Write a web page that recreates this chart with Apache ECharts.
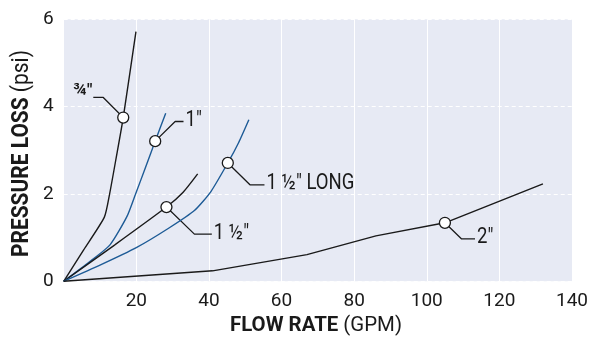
<!DOCTYPE html>
<html>
<head>
<meta charset="utf-8">
<script src="https://cdn.jsdelivr.net/npm/echarts@6/dist/echarts.min.js"></script>
<style>
html,body{margin:0;padding:0;background:#fff;}
#chart{width:591px;height:341px;}
</style>
</head>
<body>
<div id="chart"></div>
<script>
// ---- data ----
const curveNames = ['¾"', '1"', '1 ½"', '1 ½" LONG', '2"'];
const curveColors = ['#1a1a1a', '#1d5b96', '#1a1a1a', '#1d5b96', '#1a1a1a'];
const curve34 = [[0,0],[5.5,0.72],[11.2,1.47],[12.6,1.98],[14.5,2.85],[16.4,3.75],[19.9,5.72]];
const curve1 = [[0,0],[7.2,0.45],[12.8,0.84],[17.4,1.48],[19.8,2.0],[22.5,2.6],[25.2,3.21],[28.1,3.85]];
const curve15 = [[0,0],[14,0.83],[28.3,1.70],[32.9,2.04],[36.9,2.46]];
const curve15Long = [[0,0],[10,0.37],[20,0.77],[29,1.22],[36,1.62],[40.5,2.05],[45.2,2.71],[48.2,3.18],[51,3.7]];
const curve2 = [[0,0],[41,0.24],[67,0.61],[86,1.04],[105,1.34],[132,2.23]];
const markerPoints = [[16.4,3.75],[25.2,3.21],[28.3,1.70],[45.2,2.71],[105,1.34]];
const leaderElbows = [[10.9,4.21],[30.7,3.66],[36.0,1.08],[51.3,2.21],[109.6,0.97]];
const leaderEnds = [[8.15,4.21],[33.0,3.66],[40.8,1.08],[55.3,2.21],[113.3,0.97]];
const labelSides = ['left','right','right','right','right'];
const xTicks = {min:0, max:140, interval:20};
const yTicks = {min:0, max:6, interval:2};
const xName = ['FLOW RATE', ' (GPM)'];
const yName = ['PRESSURE LOSS', ' (psi)'];

// ---- chart ----
const FONT = 'Roboto, "DejaVu Sans Condensed", sans-serif';
const INK = '#1a1a1a';
const mctx = document.createElement('canvas').getContext('2d');
function tw(font, s) { mctx.font = font; return mctx.measureText(s).width; }

const curves = [curve34, curve1, curve15, curve15Long, curve2];
const series = [];
curves.forEach((c, i) => {
  series.push({
    type: 'line', name: curveNames[i], data: c, showSymbol: false,
    smooth: i === 4 ? false : 0.2,
    lineStyle: {color: curveColors[i], width: 1.4}, z: 3, silent: true
  });
});
markerPoints.forEach((m, i) => {
  series.push({
    type: 'line', data: [m, leaderElbows[i], leaderEnds[i]], showSymbol: false,
    lineStyle: {color: INK, width: 1.3}, z: 2, silent: true
  });
});
series.push({
  type: 'scatter', data: markerPoints, symbol: 'circle', symbolSize: 11,
  itemStyle: {color: '#ffffff', opacity: 1, borderColor: INK, borderWidth: 1.3}, z: 5, silent: true
});

const chart = echarts.init(document.getElementById('chart'), null, {renderer: 'canvas'});
chart.setOption({
  animation: false,
  backgroundColor: '#ffffff',
  grid: {left: 63.7, right: 19, top: 19.3, bottom: 59.7, show: true, backgroundColor: '#e7eaf4', borderWidth: 0},
  xAxis: {
    type: 'value', min: xTicks.min, max: xTicks.max, interval: xTicks.interval,
    axisLine: {show: false}, axisTick: {show: false},
    axisLabel: {fontFamily: FONT, fontSize: 19, color: INK, margin: 10,
      formatter: v => v === 0 ? '' : String(v)},
    splitLine: {show: true, lineStyle: {color: '#ffffff', width: 1, type: 'solid'}}
  },
  yAxis: {
    type: 'value', min: yTicks.min, max: yTicks.max, interval: yTicks.interval,
    axisLine: {show: false}, axisTick: {show: false},
    axisLabel: {fontFamily: FONT, fontSize: 19, color: INK, margin: 10},
    splitLine: {show: true, lineStyle: {color: '#ffffff', width: 1, type: [4, 3]}}
  },
  series: series
});

// axis names and curve labels as condensed text
const xs = 172 / (tw('bold 21px Roboto', xName[0]) + tw('21px Roboto', xName[1]));
const ys = 207 / (tw('bold 23px Roboto', yName[0]) + tw('23px Roboto', yName[1]));
const ls = 88 / tw('22px Roboto', curveNames[3]);
const graphics = [
  {type: 'text', x: 316, y: 326, scaleX: xs, z: 10, silent: true,
   style: {text: '{b|' + xName[0] + '}{n|' + xName[1] + '}', align: 'center', verticalAlign: 'middle',
     rich: {b: {font: 'bold 21px Roboto', fill: INK}, n: {font: '21px Roboto', fill: INK}}}},
  {type: 'text', x: 22.5, y: 153.5, scaleX: ys, rotation: Math.PI / 2, z: 10, silent: true,
   style: {text: '{b|' + yName[0] + '}{n|' + yName[1] + '}', align: 'center', verticalAlign: 'middle',
     rich: {b: {font: 'bold 23px Roboto', fill: INK}, n: {font: '23px Roboto', fill: INK}}}}
];
leaderEnds.forEach((p, i) => {
  const px = chart.convertToPixel({gridIndex: 0}, p);
  const left = labelSides[i] === 'left';
  graphics.push({
    type: 'text', x: px[0] + (left ? -1 : 2), y: px[1] + (i === 0 ? -7 : -1),
    scaleX: i === 0 ? 1 : ls, z: 10, silent: true,
    style: {text: curveNames[i], align: left ? 'right' : 'left', verticalAlign: 'middle',
      font: (i === 0 ? 'bold 17px' : '22px') + ' Roboto', fill: INK}
  });
});
chart.setOption({graphic: graphics});
</script>
</body>
</html>
